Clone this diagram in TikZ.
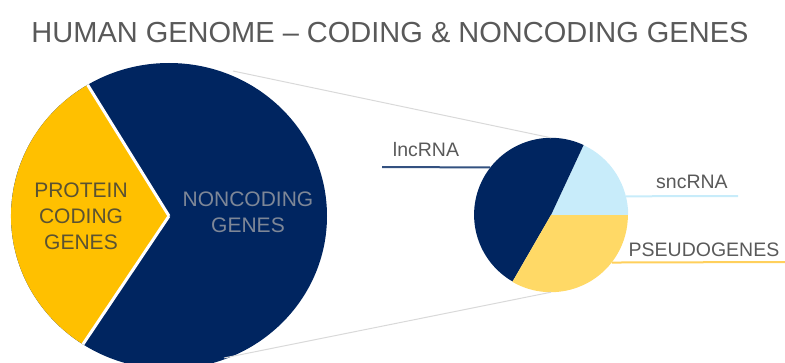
\documentclass[tikz,border=0pt]{standalone}
\usepackage{fontspec}
\setmainfont{Liberation Sans}
\definecolor{navy}{HTML}{002560}
\definecolor{amber}{HTML}{FFC000}
\definecolor{paleblue}{HTML}{C8ECFA}
\definecolor{paleamber}{HTML}{FFD966}
\definecolor{txtgray}{HTML}{595959}
\definecolor{ncgray}{HTML}{7E8797}
\definecolor{pcgray}{HTML}{5A5232}
\definecolor{linegray}{HTML}{D9D9D9}
\begin{document}
\begin{tikzpicture}[x=1pt,y=1pt]
\def\bigrx{158}
\def\bigry{153}
\def\smallr{77}
\tikzset{lbl/.style={font=\fontsize{19.5}{22}\selectfont,text=txtgray},
pielbl/.style={font=\fontsize{21}{26}\selectfont,align=center},
callout/.style={line width=2pt},
zoomline/.style={draw=linegray,line width=1pt},
cut/.style={draw=white,line width=3pt}}
\clip (0,0) rectangle (785,362);
\node[font=\fontsize{29}{32}\selectfont,text=txtgray] (title) at (390,329) {HUMAN GENOME -- CODING \& NONCODING GENES};
% big pie
\coordinate (bigc) at (169,146);
\fill[navy] (bigc) ellipse [x radius=\bigrx,y radius=\bigry];
\fill[amber] (bigc) -- ++(121:\bigrx pt and \bigry pt) arc (121:237:\bigrx pt and \bigry pt) -- cycle;
\draw[cut] (bigc) -- ++(121:\bigrx pt and \bigry pt) (bigc) -- ++(237:\bigrx pt and \bigry pt);
\node[pielbl,text=pcgray] (coding) at (81,146) {PROTEIN\\CODING\\GENES};
\node[pielbl,text=ncgray] (noncoding) at (248,150) {NONCODING\\GENES};
% small pie
\node[circle,minimum size=2*\smallr,inner sep=0] (small) at (551,147) {};
\fill[paleblue] (small.center) -- (small.0) arc (0:65:\smallr) -- cycle;
\fill[navy] (small.center) -- (small.65) arc (65:240:\smallr) -- cycle;
\fill[paleamber] (small.center) -- (small.240) arc (240:360:\smallr) -- cycle;
% zoom lines
\coordinate (bigtop) at (233,291);
\coordinate (bigbot) at (224,4);
\draw[zoomline] (bigtop) -- (small.north);
\draw[zoomline] (bigbot) -- (small.south);
% labels
\node[lbl] (lnc) at (426,212) {lncRNA};
\node[lbl] (snc) at (692,180) {sncRNA};
\node[lbl] (pseudo) at (704,112) {PSEUDOGENES};
\coordinate (lncend) at (382,195);
\coordinate (sncend) at (738,166);
\coordinate (pseudoend) at (785,100);
\draw[callout,navy!80] (small.142) -- (lncend);
\draw[callout,paleblue] (small.14) -- (sncend);
\draw[callout,paleamber!90!orange] (small.-38) -- (pseudoend);
\end{tikzpicture}
\end{document}
